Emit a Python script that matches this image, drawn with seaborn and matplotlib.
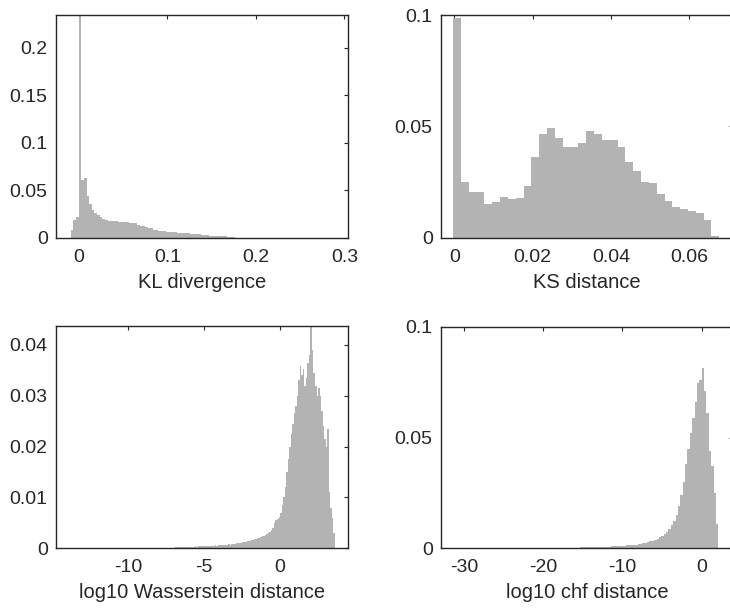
import numpy as np
import pandas as pd
import matplotlib
matplotlib.use("Agg")
import matplotlib.pyplot as plt
from matplotlib.ticker import FuncFormatter
import seaborn as sns

# ==========================================
# Datos (probabilidad por bin)
# ==========================================
# KL divergence: bins de ancho 0.003 desde -0.0095
kl_inicio, kl_ancho = -0.0095, 0.003
kl_alturas = [0.008, 0.019, 0.022, 0.300, 0.061, 0.063, 0.044, 0.035, 0.029, 0.026,
              0.024, 0.022, 0.020, 0.019, 0.018, 0.018, 0.0175, 0.0175, 0.017, 0.017,
              0.0165, 0.0162, 0.0158, 0.0156, 0.0150, 0.0132, 0.0127, 0.0124, 0.0110, 0.0100,
              0.0097, 0.0086, 0.0080, 0.0072, 0.0071, 0.0069, 0.0062, 0.0058, 0.0057, 0.0056,
              0.0054, 0.0052, 0.0048, 0.0046, 0.0045, 0.0043, 0.0038, 0.0036, 0.0035, 0.0033,
              0.0030, 0.0024, 0.0022, 0.0021, 0.0020, 0.0019, 0.0018, 0.0016, 0.0014, 0.0012,
              0.0008, 0.0003]

# KS distance: bins de ancho 0.002 desde -0.0003
ks_inicio, ks_ancho = -0.0003, 0.002
ks_alturas = [0.0988, 0.0249, 0.0204, 0.0204, 0.0150, 0.0162, 0.0183, 0.0173, 0.0177, 0.0234,
              0.0363, 0.0465, 0.0492, 0.0447, 0.0408, 0.0408, 0.0425, 0.0480, 0.0465, 0.0437,
              0.0437, 0.0408, 0.0339, 0.0300, 0.0249, 0.0245, 0.0195, 0.0165, 0.0137, 0.0128,
              0.0122, 0.0110, 0.0078, 0.0008]

# log10 Wasserstein distance: bins de ancho 0.1 desde -7.0
w_inicio, w_ancho = -7.0, 0.1
w_alturas = [0.0001, 0.0002, 0.0002, 0.0002, 0.0002, 0.0002, 0.0003, 0.0002, 0.0003, 0.0003,
             0.0003, 0.0003, 0.0003, 0.0003, 0.0004, 0.0003, 0.0004, 0.0004, 0.0004, 0.0004,
             0.0004, 0.0005, 0.0004, 0.0005, 0.0005, 0.0005, 0.0005, 0.0006, 0.0005, 0.0006,
             0.0006, 0.0006, 0.0007, 0.0006, 0.0007, 0.0007, 0.0008, 0.0007, 0.0008, 0.0009,
             0.0009, 0.0010, 0.0010, 0.0011, 0.0011, 0.0012, 0.0012, 0.0013, 0.0014, 0.0014,
             0.0015, 0.0016, 0.0017, 0.0018, 0.0019, 0.0020, 0.0021, 0.0022, 0.0024, 0.0025,
             0.0027, 0.0029, 0.0031, 0.0033, 0.0036, 0.0040, 0.0050, 0.0056, 0.0058, 0.0062,
             0.0070, 0.0085, 0.0100, 0.0120, 0.0150, 0.0175, 0.0200, 0.0225, 0.0245, 0.0265,
             0.0280, 0.0300, 0.0330, 0.0358, 0.0340, 0.0352, 0.0320, 0.0335, 0.0365, 0.0380,
             0.0460, 0.0390, 0.0345, 0.0320, 0.0300, 0.0315, 0.0300, 0.0270, 0.0240, 0.0215,
             0.0200, 0.0235, 0.0110, 0.0080, 0.0060, 0.0030]

# log10 chf distance: bins de ancho 0.3 desde -15.3
c_inicio, c_ancho = -15.3, 0.3
c_alturas = [0.0004, 0.0004, 0.0004, 0.0005, 0.0005, 0.0005, 0.0005, 0.0006, 0.0006, 0.0006,
             0.0007, 0.0008, 0.0008, 0.0009, 0.0009, 0.0010, 0.0010, 0.0011, 0.0012, 0.0013,
             0.0014, 0.0015, 0.0016, 0.0017, 0.0019, 0.0020, 0.0022, 0.0025, 0.0028, 0.0031,
             0.0035, 0.0039, 0.0044, 0.0049, 0.0056, 0.0064, 0.0074, 0.0087, 0.0104, 0.0125,
             0.0152, 0.0190, 0.0240, 0.0300, 0.0380, 0.0450, 0.0520, 0.0590, 0.0660, 0.0745,
             0.0760, 0.0815, 0.0710, 0.0610, 0.0440, 0.0370, 0.0250, 0.0110]

paneles = [
    # (inicio, ancho, alturas, etiqueta, xlim, ylim, xticks, yticks)
    (kl_inicio, kl_ancho, kl_alturas, "KL divergence", (-0.026, 0.304), (0, 0.2347),
     [0, 0.1, 0.2, 0.3], [0, 0.05, 0.1, 0.15, 0.2]),
    (ks_inicio, ks_ancho, ks_alturas, "KS distance", (-0.0034, 0.0712), (0, 0.1),
     [0, 0.02, 0.04, 0.06], [0, 0.05, 0.1]),
    (w_inicio, w_ancho, w_alturas, "log10 Wasserstein distance", (-14.74, 4.47), (0, 0.0437),
     [-10, -5, 0], [0, 0.01, 0.02, 0.03, 0.04]),
    (c_inicio, c_ancho, c_alturas, "log10 chf distance", (-32.9, 3.95), (0, 0.1),
     [-30, -20, -10, 0], [0, 0.05, 0.1]),
]

# ==========================================
# Estilo
# ==========================================
sns.set_style("white")
plt.rcParams['font.family'] = ['Liberation Sans', 'DejaVu Sans']
plt.rcParams['axes.linewidth'] = 1.0

gris_barras = "#b3b3b3"
gris_texto = "#262626"

fig = plt.figure(figsize=(7.3, 6.09), dpi=100)

# posiciones en pixeles (izq, arriba, der, abajo) -> coordenadas de figura
cajas_px = [(56, 14.7, 348, 237.7), (441, 15, 733, 237.7),
            (56, 326, 348, 548.3), (441, 326.7, 733, 548.3)]

fmt = FuncFormatter(lambda v, p: f"{v:g}")

for (inicio, ancho, alturas, etiqueta, xlim, ylim, xt, yt), (l, t, r, b) in zip(paneles, cajas_px):
    ax = fig.add_axes([l / 730, 1 - b / 609, (r - l) / 730, (b - t) / 609])
    n = len(alturas)
    bordes = [inicio + ancho * i for i in range(n + 1)]
    centros = [bordes[i] + ancho / 2 for i in range(n)]
    df = pd.DataFrame({"x": centros, "p": alturas})
    sns.histplot(data=df, x="x", weights="p", bins=bordes, element="step", fill=True,
                 color=gris_barras, alpha=1, linewidth=0, ax=ax)
    ax.set_xlim(*xlim)
    ax.set_ylim(*ylim)
    ax.set_xticks(xt)
    ax.set_yticks(yt)
    ax.xaxis.set_major_formatter(fmt)
    ax.yaxis.set_major_formatter(fmt)
    ax.tick_params(direction="in", length=3, width=0.8, top=True, right=True,
                   labelsize=14, colors=gris_texto)
    ax.tick_params(axis="x", pad=8)
    ax.tick_params(axis="y", pad=6)
    ax.set_ylabel("")
    ax.set_xlabel(etiqueta, fontsize=14.5, color=gris_texto, labelpad=5)
    for s in ax.spines.values():
        s.set_color(gris_texto)
        s.set_linewidth(1.0)

fig.savefig("out.png", dpi=100)
